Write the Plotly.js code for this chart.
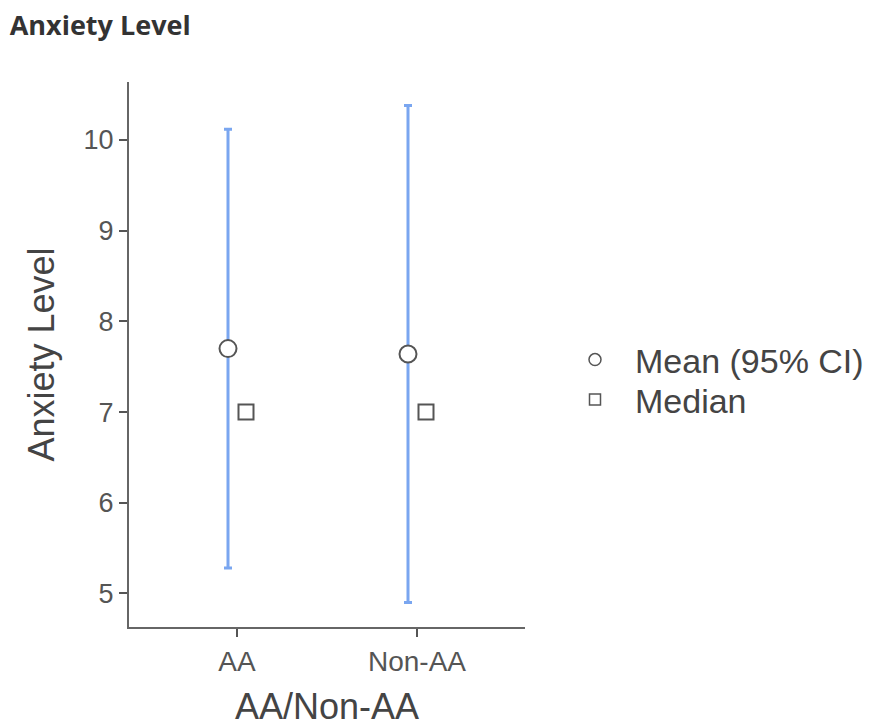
<!DOCTYPE html>
<html>
<head>
<meta charset="utf-8">
<script src="https://cdn.plot.ly/plotly-3.0.1.min.js"></script>
<style>html,body{margin:0;padding:0;background:#fff;}#chart{width:880px;height:727px;}</style>
</head>
<body>
<div id="chart"></div>
<script>
// Data
const categories = ["AA", "Non-AA"];
const meanValues = [7.70, 7.64];
const ciLower = [5.28, 4.90];
const ciUpper = [10.12, 10.38];
const medianValues = [7.0, 7.0];
const yTicks = [5, 6, 7, 8, 9, 10];
const legendNames = ["Mean (95% CI)", "Median"];
const xTitle = "AA/Non-AA";

const idx = categories.map((c, i) => i);
const offset = 0.05;
const meanX = idx.map(i => i - offset);
const medX = idx.map(i => i + offset);

const gray = "#555555";
const fontFam = "'Liberation Sans', Arial, sans-serif";

const traces = [
  {
    type: "scatter", mode: "markers", x: meanX, y: meanValues, showlegend: false,
    marker: {symbol: "circle", size: 17, color: "#ffffff", line: {color: gray, width: 2}},
    error_y: {type: "data", symmetric: false,
      array: meanValues.map((m, i) => ciUpper[i] - m),
      arrayminus: meanValues.map((m, i) => m - ciLower[i]),
      color: "#7aa6f0", thickness: 3, width: 4},
    hoverinfo: "skip"
  },
  {
    type: "scatter", mode: "markers", x: medX, y: medianValues, showlegend: false,
    marker: {symbol: "square", size: 15, color: "#ffffff", line: {color: gray, width: 2}},
    hoverinfo: "skip"
  },
  {
    type: "scatter", mode: "markers", x: [null], y: [null], name: legendNames[0], legend: "legend",
    marker: {symbol: "circle", size: 12, color: "#ffffff", line: {color: gray, width: 1.5}}
  },
  {
    type: "scatter", mode: "markers", x: [null], y: [null], name: legendNames[1], legend: "legend2",
    marker: {symbol: "square", size: 11, color: "#ffffff", line: {color: gray, width: 1.5}}
  }
];

const plotTop = 82, plotH = 545, plotL = 129, plotW = 396;
const legX = (555 - plotL) / plotW;
const legendBase = {
  x: legX, xanchor: "left", xref: "paper", yanchor: "middle",
  itemwidth: 70,
  font: {size: 34, color: "#444444", family: fontFam},
  bgcolor: "rgba(0,0,0,0)", borderwidth: 0
};

const layout = {
  width: 880, height: 727,
  margin: {l: 129, r: 355, t: 82, b: 100, pad: 0, autoexpand: false},
  paper_bgcolor: "#ffffff", plot_bgcolor: "#ffffff",
  font: {family: fontFam, color: gray},
  title: {
    text: "<b>Anxiety Level</b>",
    font: {family: "'Open Sans', 'Noto Sans', sans-serif", size: 27, color: "#333333"},
    x: 0.011, xanchor: "left", xref: "container",
    y: 1 - 26 / 727, yanchor: "middle", yref: "container"
  },
  xaxis: {
    range: [-0.6, 1.6],
    tickmode: "array", tickvals: idx, ticktext: categories,
    showline: true, linecolor: "#666666", linewidth: 2,
    ticks: "outside", ticklen: 8, tickwidth: 2, tickcolor: "#555555",
    showgrid: false, zeroline: false,
    tickfont: {size: 28, color: gray, family: fontFam}
  },
  yaxis: {
    range: [4.63, 10.64],
    tickmode: "array", tickvals: yTicks, ticktext: yTicks.map(String),
    showline: true, linecolor: "#666666", linewidth: 2,
    ticks: "outside", ticklen: 8, tickwidth: 2, tickcolor: "#555555",
    showgrid: false, zeroline: false,
    tickfont: {size: 27, color: gray, family: fontFam},
    title: {text: "Anxiety Level", font: {size: 36, color: "#444444", family: fontFam}, standoff: 18}
  },
  annotations: [{
    text: xTitle, xref: "paper", yref: "paper", x: 0.5, y: -(706 - (plotTop + plotH)) / plotH,
    xanchor: "center", yanchor: "middle", showarrow: false,
    font: {size: 36, color: "#444444", family: fontFam}
  }],
  legend: Object.assign({}, legendBase, {y: (plotTop + plotH - 360) / plotH}),
  legend2: Object.assign({}, legendBase, {y: (plotTop + plotH - 400) / plotH}),
  showlegend: true
};

Plotly.newPlot("chart", traces, layout, {displayModeBar: false, staticPlot: true});
</script>
</body>
</html>
